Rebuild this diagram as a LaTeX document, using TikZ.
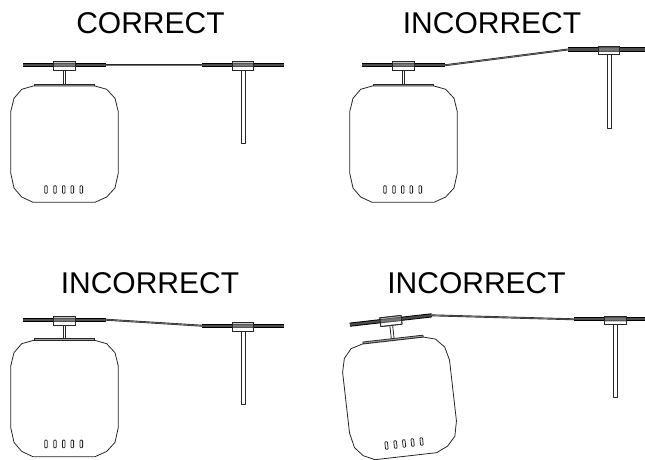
\documentclass[tikz,border=0pt]{standalone}
\usepackage{fontspec}
\setmainfont{Liberation Sans}
\newcommand{\mountbarparts}{%
    \draw[thinline,fill=white] (-10.7,-3.4) rectangle (10.7,5.4);
    \draw[barmid] (-41.2,0) -- (41.2,0);
    \draw[baredge] (-41.2,-1.6) -- (41.2,-1.6);
    \draw[baredge] (-41.2,1.6) -- (41.2,1.6);
    \fill[black!40,opacity=.55] (-10.2,-3) rectangle (10.2,2.2);
    \draw[thinline] (-10.7,-3.4) rectangle (10.7,5.4);
    \coordinate (-l) at (-41.2,0);
    \coordinate (-r) at (41.2,0);
}
\tikzset{
  x=1pt,y=-1pt,
  thinline/.style={draw=black!85,line width=0.8pt,line join=round},
  baredge/.style={draw=black,line width=0.9pt},
  barmid/.style={draw=black!70,line width=3pt},
  title/.style={font=\fontsize{30}{34}\selectfont,text=black,inner sep=0pt},
  cablewire/.style={draw=black!85,line width=0.6pt,double=black!55,double distance=0.7pt},
  pics/antenna/.style={code={
    \mountbarparts
    \draw[thinline,fill=white] (-1.9,5.4) rectangle (1.9,78.4);
  }},
  pics/accesspoint/.style={code={
    \mountbarparts
    \draw[thinline,fill=white] (-1.6,5.4) rectangle (1.2,19);
    \draw[thinline,fill=black!35] (-30.2,18.7) rectangle (30.2,20.7);
    \draw[thinline,fill=white]
      (-31.2,20.7) -- (30.5,20.7) -- (42.2,24) -- (50.5,33) -- (53.8,46.4)
      -- (53.8,107.7) -- (50.5,122.7) -- (42.2,131.7) -- (30.5,137)
      -- (-31.5,137) -- (-42.8,131.7) -- (-50.5,122.7) -- (-53.8,107.7)
      -- (-53.8,46.4) -- (-50.5,33) -- (-42.8,24) -- cycle;
    \foreach \sx in {-18.5,-9.5,-0.8,7.8,16.8}
      \draw[thinline,rounded corners=0.8pt] (\sx-1.3,120.4) rectangle (\sx+1.3,128);
  }}
}
\begin{document}
\begin{tikzpicture}
\clip (0,0) rectangle (645,460);
\fill[white] (0,0) rectangle (645,460);
\node[title] (t1) at (150.5,23) {CORRECT};
\node[title] (t2) at (492,23) {INCORRECT};
\node[title] (t3) at (150,283) {INCORRECT};
\node[title] (t4) at (476.5,283) {INCORRECT};

\pic (ap1) at (64.5,65.3) {accesspoint};
\pic (ant1) at (243,65.3) {antenna};
\draw[cablewire] (ap1-r) -- (ant1-l);

\pic (ap2) at (403.5,65.3) {accesspoint};
\pic (ant2) at (609,49.5) {antenna};
\draw[cablewire] (ap2-r) -- (ant2-l);

\pic (ap3) at (64.5,319.7) {accesspoint};
\pic (ant3) at (243,325.7) {antenna};
\draw[cablewire] (ap3-r) -- (ant3-l);

\pic[rotate=6.5] (ap4) at (390.8,320) {accesspoint};
\pic (ant4) at (615.3,319.3) {antenna};
\draw[cablewire] (ap4-r) -- (ant4-l);
\end{tikzpicture}
\end{document}
